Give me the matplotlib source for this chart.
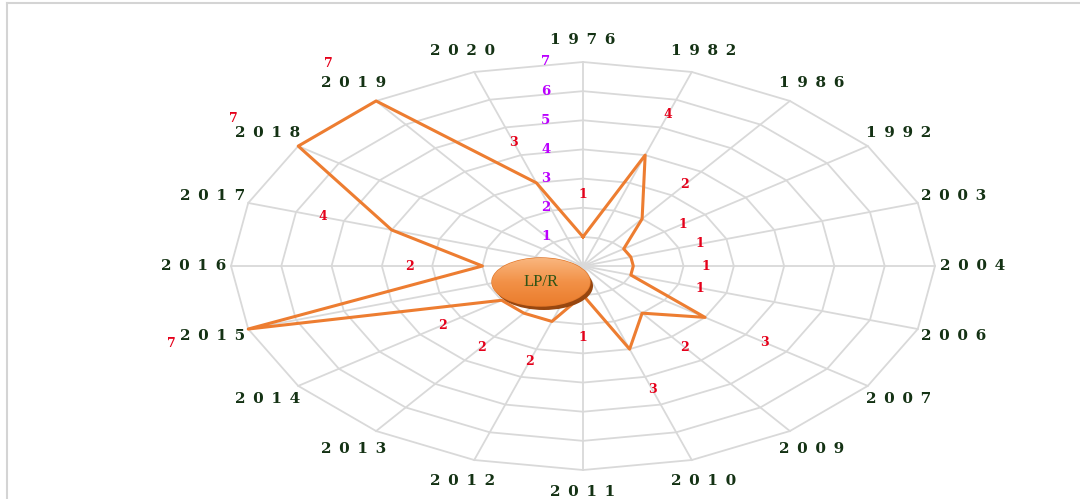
import numpy as np
import matplotlib
matplotlib.use("Agg")
import matplotlib.pyplot as plt
import matplotlib.transforms as mtransforms
from matplotlib.patches import Ellipse
from matplotlib.lines import Line2D
from matplotlib.colors import LinearSegmentedColormap

# data (clockwise from top)
years = ['1976', '1982', '1986', '1992', '2003', '2004', '2006', '2007', '2009', '2010',
         '2011', '2012', '2013', '2014', '2015', '2016', '2017', '2018', '2019', '2020']
counts = [1, 4, 2, 1, 1, 1, 1, 3, 2, 3, 1, 2, 2, 2, 7, 2, 4, 7, 7, 3]
ring_levels = [1, 2, 3, 4, 5, 6, 7]
center_label = 'LP/R'

W, H = 1080, 499
fig = plt.figure(figsize=(W / 100, H / 100), dpi=100)

# the radar is stretched horizontally -> polar axes with auto aspect
cx, cy, rx, ry = 583, 266, 352, 204
ax = fig.add_axes([(cx - rx) / W, (H - cy - ry) / H, 2 * rx / W, 2 * ry / H],
                  projection='polar')
ax.set_aspect('auto')
ax.set_theta_zero_location('N')
ax.set_theta_direction(-1)
ax.set_ylim(0, max(ring_levels))
ax.set_xticks([])
ax.set_yticks([])
ax.grid(False)
ax.spines['polar'].set_visible(False)
ax.patch.set_alpha(0)

n = len(years)
angles = np.linspace(0, 2 * np.pi, n, endpoint=False)
closed = np.append(angles, angles[0])

grid_col = '#d9d9d9'
for lev in ring_levels:
    ax.plot(closed, [lev] * (n + 1), color=grid_col, lw=1.3, zorder=1, clip_on=False)
for a in angles:
    ax.plot([a, a], [0, max(ring_levels)], color=grid_col, lw=1.3, zorder=1, clip_on=False)

ax.plot(closed, counts + [counts[0]], color='#ed7d31', lw=2.2, zorder=3, clip_on=False)

# category labels (letter-spaced)
for a, y in zip(angles, years):
    ax.text(a, 7.75, '\u2002'.join(y), ha='center', va='center', fontsize=11,
            fontweight='bold', family='DejaVu Serif', color='#143214')

# value labels
for a, v in zip(angles, counts):
    ax.text(a, v + 1.45 + (0.15 if v == 7 else 0), str(v), ha='center', va='center',
            fontsize=9, fontweight='bold', family='DejaVu Serif', color='#e5001a')

# radial scale labels
trans = mtransforms.offset_copy(ax.transData, fig=fig, x=-37, y=0, units='dots')
for lev in ring_levels:
    ax.text(0, lev, str(lev), transform=trans, ha='center', va='center', fontsize=9.5,
            fontweight='bold', family='DejaVu Serif', color='#bb00ff')

# centre bubble
bax = fig.add_axes([488 / W, (H - 314) / H, 110 / W, 60 / H])
shadow = Ellipse((544, 286), 98, 48, facecolor='#97460f', edgecolor='none')
bax.add_patch(shadow)
body = Ellipse((541, 282), 98, 48, facecolor='none', edgecolor='#e3782a', lw=1)
bax.add_patch(body)
cmap = LinearSegmentedColormap.from_list('bub', ['#f9b67e', '#f29147', '#ea7c2c'])
im = bax.imshow(np.linspace(0, 1, 100).reshape(-1, 1), extent=(492, 590, 306, 258),
                cmap=cmap, aspect='auto', zorder=2)
im.set_clip_path(body)
bax.text(541, 282, center_label, ha='center', va='center', fontsize=12,
         family='Liberation Serif', color='#2f5416', zorder=4)
bax.set_xlim(488, 598)
bax.set_ylim(314, 254)
bax.axis('off')

# outer frame remnants
fig.add_artist(Line2D([7 / W, 1], [1 - 2.5 / H] * 2, transform=fig.transFigure,
                      color='#d4d4d4', lw=1.5))
fig.add_artist(Line2D([7 / W] * 2, [0, 1 - 2.5 / H], transform=fig.transFigure,
                      color='#d4d4d4', lw=1.5))

fig.savefig('out.png', dpi=100)
